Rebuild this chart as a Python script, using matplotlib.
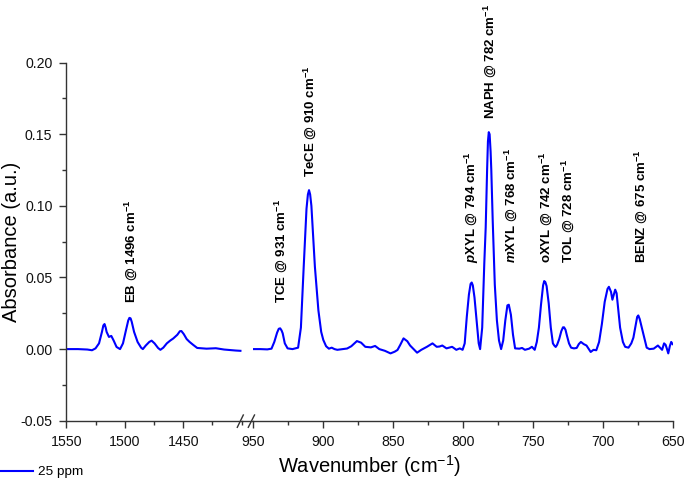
import matplotlib
matplotlib.use("Agg")
import matplotlib.pyplot as plt
from matplotlib.lines import Line2D
from matplotlib.ticker import MultipleLocator

plt.rcParams['font.family'] = ['Liberation Sans', 'DejaVu Sans']
plt.rcParams['mathtext.fontset'] = 'custom'
plt.rcParams['mathtext.rm'] = 'Liberation Sans'
plt.rcParams['mathtext.bf'] = 'Liberation Sans:bold'
plt.rcParams['mathtext.it'] = 'Liberation Sans:italic:bold'
plt.rcParams['axes.unicode_minus'] = False

# ---------------- data ----------------
series_label = "25 ppm"

left_wn = [1550, 1540, 1532, 1528, 1525, 1522, 1519.5, 1518.3, 1517.3, 1516.3, 1515.5, 1513.5, 1511.5,
           1509.5, 1507, 1504, 1501.5, 1499, 1497, 1496, 1495, 1494, 1492, 1489, 1486,
           1484.5, 1482, 1479, 1477, 1474.5, 1471.5, 1469.5, 1467, 1464, 1461, 1458.5,
           1455, 1452.8, 1451.5, 1449.5, 1447, 1444.5, 1441.5, 1438, 1430, 1422, 1415, 1405, 1401]
left_abs = [0.0, 0.0, -0.0003, -0.0008, 0.0005, 0.004, 0.012, 0.0165, 0.0175, 0.015, 0.012, 0.0085, 0.0092,
            0.006, 0.0015, 0.0, 0.004, 0.013, 0.020, 0.0218, 0.0215, 0.019, 0.012, 0.005, 0.001,
            0.0, 0.0025, 0.005, 0.0059, 0.004, 0.0008, -0.0005, 0.001, 0.004, 0.006, 0.0074,
            0.010, 0.0125, 0.0126, 0.0105, 0.007, 0.005, 0.003, 0.0008, 0.0003, 0.0006, -0.0003, -0.001, -0.0012]

right_wn = [950, 945, 940, 937, 935, 933, 931.8, 930.8, 929.8, 929, 927.5, 925.5, 922, 918, 916, 914, 912,
            911, 910.2, 909.4, 908.5, 906, 903.5, 901.5, 900, 898, 896, 894, 892, 890, 886, 883, 880,
            876, 873, 870, 866, 863, 860, 856, 852, 849, 847, 845, 842.7, 840, 838, 835,
            833, 830, 826, 822, 819, 817, 815, 812, 808, 805, 802.5, 800.5, 799, 797.5,
            796, 794.8, 794, 793.2, 792, 790.5, 789, 788, 786.5, 785, 784, 783, 782.4, 781.8, 781.2, 780.5, 780, 779,
            777.5, 776, 774.5, 773, 771.5, 770, 768.5, 767.5, 766, 764.5, 763, 760, 758,
            756, 753, 751, 749, 747.5, 746, 744.5, 743, 742.2, 741.4, 740.5, 739, 737.5, 736, 735,
            734, 733, 731.5, 730, 728.8, 728, 727, 726, 724.5, 723, 721, 719, 717.5, 716, 714,
            712, 710, 709, 707, 705, 703, 701, 699, 697, 696, 694.5, 693.5, 692.5, 691.5,
            690.5, 689, 688, 686, 684.4, 682, 680, 678.5, 677, 675.8, 675, 674, 673, 671, 669,
            667, 664, 661, 659, 658, 656.6, 655.5, 654.5, 653.6, 652.5, 651.5, 650.5]
right_abs = [0.0, 0.0, -0.0002, 0.0003, 0.005, 0.0115, 0.0142, 0.0145, 0.013, 0.011, 0.004, 0.0005, 0.0,
             0.001, 0.015, 0.0575, 0.098, 0.108, 0.111, 0.108, 0.100, 0.0575, 0.027, 0.012, 0.0064, 0.002,
             0.0003, 0.001, 0.0, -0.0005, 0.0, 0.0004, 0.002, 0.0056, 0.0045, 0.0016, 0.0012,
             0.0022, 0.0, -0.0012, -0.003, -0.0018, -0.0006, 0.003, 0.0075, 0.0055, 0.0025,
             -0.0005, -0.0025, -0.0005, 0.0016, 0.004, 0.0016, 0.0018, 0.0025, 0.0005, 0.0016,
             -0.0005, 0.0005, -0.0005, 0.004, 0.0226, 0.038, 0.0455, 0.0465, 0.0445, 0.036, 0.02, 0.004, 0.0,
             0.015, 0.06, 0.085, 0.125, 0.145, 0.1515, 0.150, 0.138, 0.125, 0.09, 0.045, 0.02, 0.006, 0.0,
             0.006, 0.02, 0.0305, 0.031, 0.024, 0.01, 0.0005, 0.0003, 0.0008, -0.0005, 0.0003,
             0.0016, -0.0005, 0.005, 0.015, 0.031, 0.0445, 0.0475, 0.0468, 0.044, 0.032, 0.015, 0.004,
             0.0025, 0.0015, 0.003, 0.007, 0.0125, 0.0152, 0.0152, 0.0135, 0.0095, 0.004, 0.001, 0.0005,
             0.0008, 0.0035, 0.005, 0.0035, 0.0025, -0.0005, -0.002, -0.0005, -0.0008, 0.005,
             0.0176, 0.033, 0.042, 0.0435, 0.040, 0.0345, 0.038, 0.0415, 0.039, 0.025, 0.015,
             0.005, 0.0016, 0.001, 0.004, 0.008, 0.016, 0.0225, 0.0235, 0.021, 0.017, 0.009, 0.001,
             0.0, 0.0003, 0.0025, 0.0005, -0.0005, 0.004, 0.003, 0.0, -0.003, 0.002, 0.005, 0.0035]

ann_labels = [r'EB @ 1496 cm$^{\mathbf{-1}}$',
              r'TCE @ 931 cm$^{\mathbf{-1}}$',
              r'TeCE @ 910 cm$^{\mathbf{-1}}$',
              r'$p$XYL @ 794 cm$^{\mathbf{-1}}$',
              r'NAPH @ 782 cm$^{\mathbf{-1}}$',
              r'$m$XYL @ 768 cm$^{\mathbf{-1}}$',
              r'oXYL @ 742 cm$^{\mathbf{-1}}$',
              r'TOL @ 728 cm$^{\mathbf{-1}}$',
              r'BENZ @ 675 cm$^{\mathbf{-1}}$']
ann_x = [1494.5, 930.5, 909.8, 793.5, 781, 766.5, 741.5, 725.5, 673]
ann_y = [0.032, 0.032, 0.120, 0.060, 0.161, 0.060, 0.060, 0.060, 0.060]
ann_side = ['L', 'R', 'R', 'R', 'R', 'R', 'R', 'R', 'R']

left_ticks = [1550, 1500, 1450]
right_ticks = [950, 900, 850, 800, 750, 700, 650]
y_ticks = [-0.05, 0.00, 0.05, 0.10, 0.15, 0.20]

# ---------------- figure ----------------
W, H = 685, 480
fig = plt.figure(figsize=(W / 100, H / 100), dpi=100)

y0 = (H - 420.7) / H
hgt = (420.7 - 62.7) / H
axL = fig.add_axes([66.3 / W, y0, (241.6 - 66.3) / W, hgt])
axR = fig.add_axes([253.3 / W, y0, (673.3 - 253.3) / W, hgt])

col = '#0000ff'
lineL, = axL.plot(left_wn, left_abs, color=col, lw=1.5, label=series_label)
axR.plot(right_wn, right_abs, color=col, lw=1.5)

axL.set_xlim(1550, 1400)
axR.set_xlim(950, 650)
for ax in (axL, axR):
    ax.set_ylim(-0.05, 0.20)
    ax.spines['top'].set_visible(False)
    ax.spines['right'].set_visible(False)
    ax.spines['bottom'].set_linewidth(1.0)
    ax.spines['bottom'].set_color('#333333')
    ax.xaxis.set_minor_locator(MultipleLocator(25))
    ax.tick_params(axis='x', which='major', direction='out', length=5, width=1.0,
                   labelsize=10.2, pad=5, colors='#333333', labelcolor='#111111')
    ax.tick_params(axis='x', which='minor', direction='out', length=3, width=1.0,
                   colors='#333333')
    ax.patch.set_alpha(0)

axL.set_xticks(left_ticks)
axR.set_xticks(right_ticks)
axL.set_yticks(y_ticks)
axL.set_yticklabels([f'{v:.2f}' for v in y_ticks])
axL.yaxis.set_minor_locator(MultipleLocator(0.025))
axL.spines['left'].set_linewidth(1.0)
axL.spines['left'].set_color('#333333')
axL.tick_params(axis='y', which='major', direction='out', length=5, width=1.0,
                labelsize=10.2, pad=5, colors='#333333', labelcolor='#111111')
axL.tick_params(axis='y', which='minor', direction='out', length=3, width=1.0,
                colors='#333333')
axR.spines['left'].set_visible(False)
axR.set_yticks([])
axR.yaxis.set_minor_locator(plt.NullLocator())

for lab, x, y, side in zip(ann_labels, ann_x, ann_y, ann_side):
    ax = axL if side == 'L' else axR
    ax.text(x, y, lab, rotation=90, ha='center', va='bottom',
            fontsize=9.5, fontweight='bold', color='black')

fig.text(12 / W, 1 - 242 / H, 'Absorbance (a.u.)', rotation=90, ha='center',
         va='center', fontsize=14.5)
fig.text(369.5 / W, 1 - 466 / H, r'Wavenumber (cm$^{-1}$)', ha='center',
         va='center', fontsize=14.5)

ybase = y0
fig.add_artist(Line2D([241.6 / W, 253.3 / W], [ybase, ybase], color='#333333', lw=1.0))
for xa, xb in [(237.3, 243.3), (248.3, 254.5)]:
    fig.add_artist(Line2D([xa / W, xb / W], [(H - 427.3) / H, (H - 415) / H],
                          color='#333333', lw=1.0))

fig.legend(handles=[lineL], labels=[series_label], loc='center left',
           bbox_to_anchor=(1 / W, 8 / H), frameon=False, fontsize=9.7,
           handlelength=2.4, handletextpad=0.35, borderpad=0, borderaxespad=0)

fig.savefig('out.png', dpi=100)
